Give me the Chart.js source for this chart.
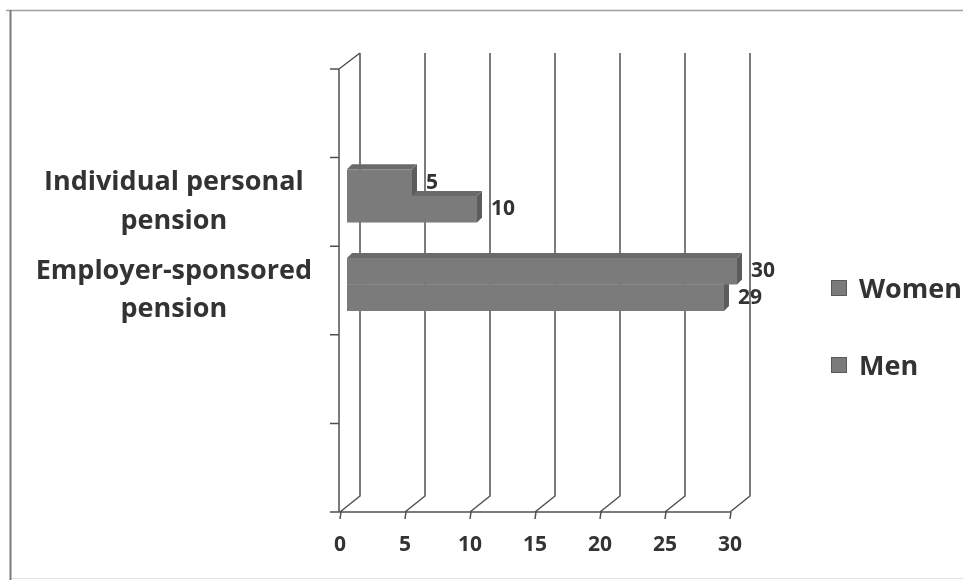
<!DOCTYPE html>
<html>
<head>
<meta charset="utf-8">
<script src="https://cdn.jsdelivr.net/npm/chart.js@4/dist/chart.umd.min.js"></script>
<style>
  html, body { margin: 0; padding: 0; background: #fff; }
  #wrap { position: relative; width: 963px; height: 580px; overflow: hidden; }
  #legend { position: absolute; left: 831px; top: 0; font: bold 27px "Open Sans", sans-serif; color: #333; }
  .item { position: absolute; left: 0; height: 36px; line-height: 36px; display: flex; align-items: center; white-space: nowrap; }
  .swatch { width: 16px; height: 16px; margin-right: 12px; box-sizing: border-box; border: 1px solid #5a5a5a; }
</style>
</head>
<body>
<div id="wrap">
  <canvas id="chart" width="963" height="580"></canvas>
  <div id="legend"></div>
</div>
<script>
// Pension coverage by type (blank rows keep the empty slots of the category axis)
const categories = [
  '',
  ['Individual personal', 'pension'],
  ['Employer-sponsored', 'pension'],
  '',
  ''
];
const women = [null, 5, 30, null, null];
const men = [null, 10, 29, null, null];
const seriesNames = ['Women', 'Men'];
const xTicks = { min: 0, max: 30, step: 5 };

const TEXT = '#333333';
const LINE = '#505050';
const FONT = '"Open Sans", sans-serif';
const DEPTH = { x: 20, y: -16 };     // depth of the back wall
const BAR_SHIFT = { x: 7, y: -6 };   // bars sit a little behind the front plane
const BAR_DEPTH = 5;                 // thickness of the bar top/side faces

Chart.defaults.font.family = FONT;

// page frame
const framePlugin = {
  id: 'frame',
  beforeDraw(chart) {
    const ctx = chart.ctx;
    ctx.save();
    ctx.fillStyle = '#fff';
    ctx.fillRect(0, 0, chart.width, chart.height);
    ctx.strokeStyle = '#a0a0a0';
    ctx.lineWidth = 1.5;
    ctx.beginPath();
    ctx.moveTo(6, 10.5); ctx.lineTo(chart.width, 10.5);
    ctx.stroke();
    ctx.strokeStyle = '#e2e2e2';
    ctx.lineWidth = 1;
    ctx.beginPath();
    ctx.moveTo(10, 578.5); ctx.lineTo(chart.width, 578.5);
    ctx.stroke();
    ctx.strokeStyle = '#7a7a7a';
    ctx.lineWidth = 2;
    ctx.beginPath();
    ctx.moveTo(10.5, 10); ctx.lineTo(10.5, chart.height);
    ctx.stroke();
    ctx.restore();
  }
};

// 3-D walls: back gridlines, floor diagonals, front axes and tick marks
const wallsPlugin = {
  id: 'walls',
  beforeDatasetsDraw(chart) {
    const ctx = chart.ctx;
    const xs = chart.scales.x, ys = chart.scales.y;
    const { left, right, top, bottom } = chart.chartArea;
    ctx.save();
    ctx.strokeStyle = LINE;
    ctx.lineWidth = 1.5;
    ctx.beginPath();
    xs.ticks.forEach(t => {
      const px = xs.getPixelForValue(t.value);
      ctx.moveTo(px + DEPTH.x, top + DEPTH.y);
      ctx.lineTo(px + DEPTH.x, bottom + DEPTH.y);
      ctx.lineTo(px, bottom);
      ctx.moveTo(px + 1, bottom);
      ctx.lineTo(px, bottom + 7);
    });
    // front left edge and its top corner
    ctx.moveTo(left - 1, bottom);
    ctx.lineTo(left - 1, top);
    ctx.lineTo(left + DEPTH.x, top + DEPTH.y);
    // front floor edge
    ctx.moveTo(left - 9, bottom);
    ctx.lineTo(right, bottom);
    // category boundary ticks
    const n = ys.getLabels().length;
    const slot = (bottom - top) / n;
    for (let i = 0; i <= n; i++) {
      const yy = top + i * slot;
      ctx.moveTo(left - 10, yy);
      ctx.lineTo(left - 1, yy);
    }
    ctx.stroke();
    ctx.restore();
  }
};

// bar top and side faces, drawn under each bar's front face, plus value labels
const barFacesPlugin = {
  id: 'barFaces',
  beforeDatasetDraw(chart, args) {
    const ctx = chart.ctx;
    const values = chart.data.datasets[args.index].data;
    ctx.save();
    ctx.translate(BAR_SHIFT.x, BAR_SHIFT.y);
    args.meta.data.forEach((el, i) => {
      if (values[i] === null || values[i] === undefined) return;
      const p = el.getProps(['x', 'y', 'base', 'height'], true);
      const t = p.y - p.height / 2, b = p.y + p.height / 2;
      const d = BAR_DEPTH;
      ctx.fillStyle = '#5c5c5c';
      ctx.beginPath();
      ctx.moveTo(p.x, t); ctx.lineTo(p.x + d, t - d); ctx.lineTo(p.x + d, b - d); ctx.lineTo(p.x, b);
      ctx.closePath(); ctx.fill();
      ctx.fillStyle = '#6a6a6a';
      ctx.beginPath();
      ctx.moveTo(p.base, t); ctx.lineTo(p.base + d, t - d); ctx.lineTo(p.x + d, t - d); ctx.lineTo(p.x, t);
      ctx.closePath(); ctx.fill();
    });
  },
  afterDatasetDraw(chart) {
    chart.ctx.restore();
  },
  afterDatasetsDraw(chart) {
    const ctx = chart.ctx;
    ctx.save();
    ctx.fillStyle = TEXT;
    ctx.font = 'bold 21px ' + FONT;
    ctx.textAlign = 'left';
    ctx.textBaseline = 'middle';
    chart.data.datasets.forEach((ds, di) => {
      const meta = chart.getDatasetMeta(di);
      meta.data.forEach((el, i) => {
        const v = ds.data[i];
        if (v === null || v === undefined) return;
        const p = el.getProps(['x', 'y'], true);
        ctx.fillText(String(v), p.x + BAR_SHIFT.x + BAR_DEPTH + 9, p.y + BAR_SHIFT.y);
      });
    });
    ctx.restore();
  }
};

const chart = new Chart(document.getElementById('chart'), {
  type: 'bar',
  data: {
    labels: categories,
    datasets: [
      { label: seriesNames[0], data: women, backgroundColor: '#7b7b7b', borderWidth: 0, categoryPercentage: 0.6, barPercentage: 1, clip: false },
      { label: seriesNames[1], data: men, backgroundColor: '#7b7b7b', borderWidth: 0, categoryPercentage: 0.6, barPercentage: 1, clip: false }
    ]
  },
  options: {
    indexAxis: 'y',
    responsive: false,
    animation: false,
    layout: { padding: { top: 69, right: 233, bottom: 0, left: 0 } },
    plugins: { legend: { display: false }, tooltip: { enabled: false } },
    scales: {
      x: {
        min: xTicks.min, max: xTicks.max,
        ticks: { stepSize: xTicks.step, padding: 20, color: TEXT, font: { size: 21, weight: 'bold', lineHeight: 1.2 } },
        grid: { display: false, drawTicks: false },
        border: { display: false },
        afterFit(s) { s.height = 68; }
      },
      y: {
        ticks: { crossAlign: 'center', padding: 28, color: TEXT, font: { size: 27, weight: 'bold', lineHeight: 1.42 } },
        grid: { display: false, drawTicks: false },
        border: { display: false },
        afterFit(s) { s.width = 340; }
      }
    }
  },
  plugins: [framePlugin, wallsPlugin, barFacesPlugin]
});

// legend built from the chart's datasets
const legendEl = document.getElementById('legend');
const legendRows = [288, 365];
chart.data.datasets.forEach((ds, i) => {
  const item = document.createElement('div');
  item.className = 'item';
  item.style.top = (legendRows[i] - 18) + 'px';
  const sw = document.createElement('span');
  sw.className = 'swatch';
  sw.style.background = ds.backgroundColor;
  const tx = document.createElement('span');
  tx.textContent = ds.label;
  item.appendChild(sw);
  item.appendChild(tx);
  legendEl.appendChild(item);
});
</script>
</body>
</html>
